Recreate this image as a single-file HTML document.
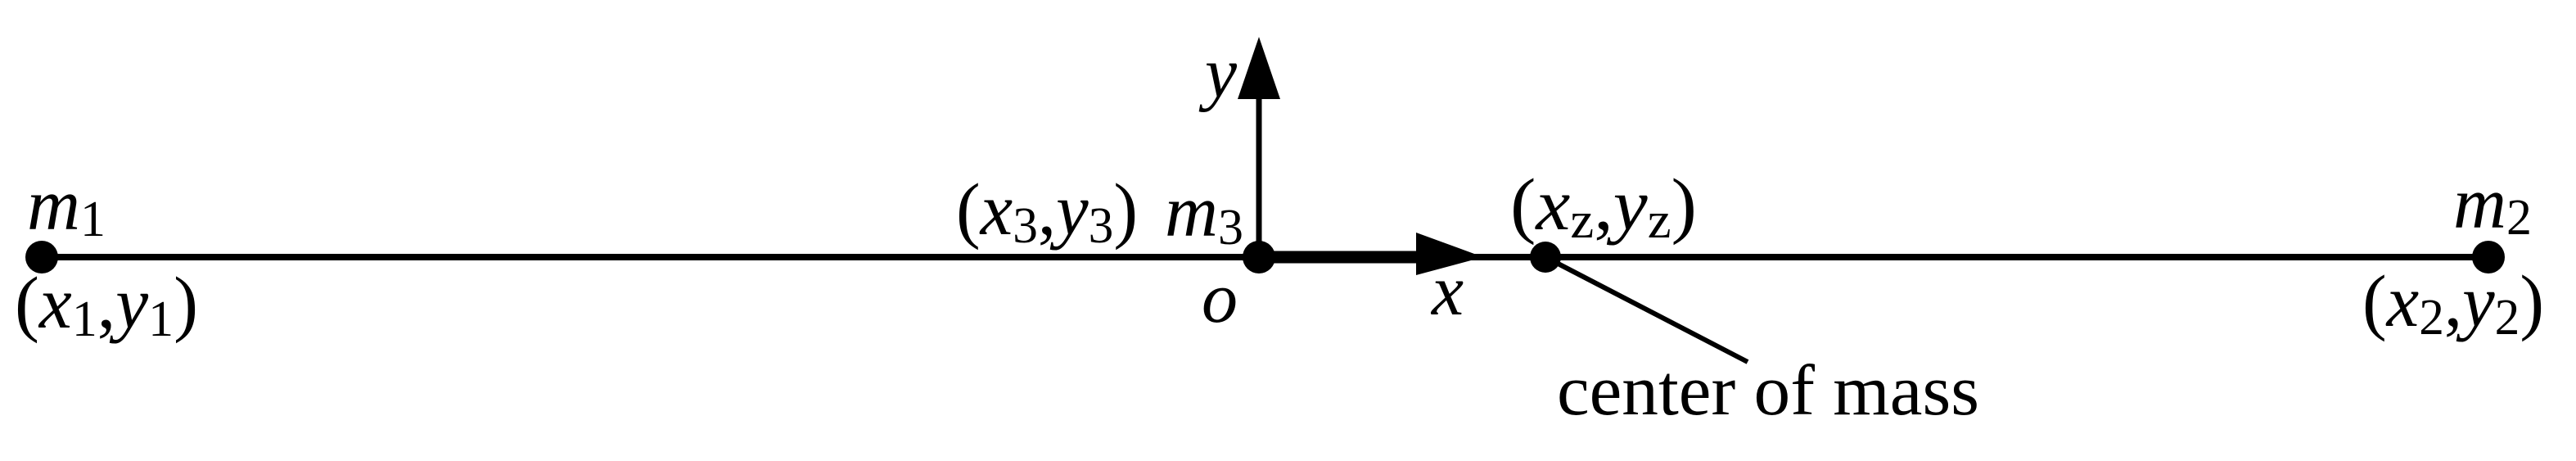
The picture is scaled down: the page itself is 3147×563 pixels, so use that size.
<!DOCTYPE html>
<html><head><meta charset="utf-8"><style>
html,body{margin:0;padding:0;background:#fff;}
svg{display:block;}
text{font-family:"Liberation Serif",serif;fill:#000;}
.i{font-style:italic;}
</style></head><body>
<svg width="3147" height="563" viewBox="0 0 3147 563" xmlns="http://www.w3.org/2000/svg">
<line x1="51" y1="314" x2="3040" y2="314" stroke="#000" stroke-width="8"/>
<line x1="1538" y1="314" x2="1735" y2="314" stroke="#000" stroke-width="15"/>
<polygon points="1730,284 1812,314 1730,336" fill="#000"/>
<line x1="1538" y1="314" x2="1538" y2="115" stroke="#000" stroke-width="7"/>
<polygon points="1538,45 1564,121 1512,121" fill="#000"/>
<line x1="1888" y1="314" x2="2135" y2="442" stroke="#000" stroke-width="6"/>
<circle cx="51" cy="314" r="20" fill="#000"/>
<circle cx="1538" cy="314" r="20" fill="#000"/>
<circle cx="1888" cy="314" r="19" fill="#000"/>
<circle cx="3040" cy="314" r="20" fill="#000"/>

<text x="33" y="280" font-size="90"><tspan class="i">m</tspan><tspan font-size="62" dy="8">1</tspan></text>
<text x="18" y="400" font-size="90" textLength="224" lengthAdjust="spacingAndGlyphs">(<tspan class="i">x</tspan><tspan font-size="62" dy="10">1</tspan><tspan dy="-10">,</tspan><tspan class="i">y</tspan><tspan font-size="62" dy="10">1</tspan><tspan dy="-10">)</tspan></text>

<text x="1168" y="286" font-size="90" textLength="222" lengthAdjust="spacingAndGlyphs">(<tspan class="i">x</tspan><tspan font-size="62" dy="10">3</tspan><tspan dy="-10">,</tspan><tspan class="i">y</tspan><tspan font-size="62" dy="10">3</tspan><tspan dy="-10">)</tspan></text>
<text x="1423" y="288" font-size="90"><tspan class="i">m</tspan><tspan font-size="62" dy="10">3</tspan></text>
<text x="1472" y="118" font-size="88" class="i">y</text>
<text x="1468" y="393" font-size="88" class="i">o</text>
<text x="1749" y="384" font-size="88" class="i">x</text>
<text x="1845" y="280" font-size="90" textLength="228" lengthAdjust="spacingAndGlyphs">(<tspan class="i">x</tspan><tspan font-size="62" dy="10">z</tspan><tspan dy="-10">,</tspan><tspan class="i">y</tspan><tspan font-size="62" dy="10">z</tspan><tspan dy="-10">)</tspan></text>
<text x="1902" y="506" font-size="88" textLength="516" lengthAdjust="spacingAndGlyphs">center of mass</text>

<text x="2997" y="278" font-size="90"><tspan class="i">m</tspan><tspan font-size="62" dy="8">2</tspan></text>
<text x="2886" y="398" font-size="90" textLength="222" lengthAdjust="spacingAndGlyphs">(<tspan class="i">x</tspan><tspan font-size="62" dy="10">2</tspan><tspan dy="-10">,</tspan><tspan class="i">y</tspan><tspan font-size="62" dy="10">2</tspan><tspan dy="-10">)</tspan></text>
</svg>
</body></html>
